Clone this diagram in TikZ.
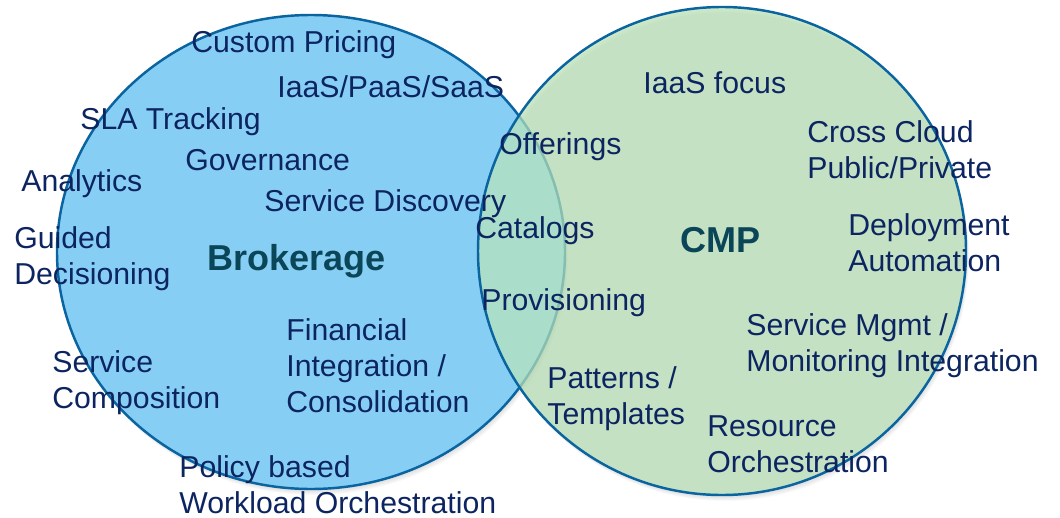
\documentclass[tikz,border=0pt]{standalone}
\usepackage{fontspec}
\setmainfont{Liberation Sans}
\definecolor{brokerblue}{RGB}{135,206,245}
\definecolor{cmpgreen}{RGB}{186,228,184}
\definecolor{rimblue}{RGB}{10,100,160}
\definecolor{labelnavy}{RGB}{12,36,96}
\definecolor{titleteal}{RGB}{11,69,88}
\tikzset{
  item/.style={anchor=west, align=left, inner sep=0pt, text=labelnavy,
    font=\fontsize{17.2}{20.5}\selectfont},
  venntitle/.style={anchor=west, inner sep=0pt, text=titleteal,
    font=\fontsize{20.5}{24}\selectfont\bfseries},
  ring/.style={draw=rimblue, line width=1.4pt},
}
\begin{document}
\begin{tikzpicture}[x=0.02cm, y=-0.02cm]
  \useasboundingbox (0,0) rectangle (1060,517);

  % soft shadows
  \foreach \s in {1,...,6} {
    \fill[black, opacity=0.025] (311+0.5*\s, 252+\s) ellipse [x radius=254, y radius=237];
    \fill[black, opacity=0.025] (722+0.5*\s, 251+\s) circle [radius=244];
  }

  % Brokerage set
  \fill[brokerblue] (311,252) ellipse [x radius=254, y radius=237];
  \draw[ring] (311,252) ellipse [x radius=254, y radius=237];

  % CMP set
  \fill[cmpgreen, opacity=0.7] (722,251) circle [radius=244];
  \draw[ring] (722,251) circle [radius=244];

  % titles
  \node[venntitle] (brokerage) at (207,261) {Brokerage};
  \node[venntitle] (cmp) at (680,240) {CMP};

  % brokerage features
  \node[item] (cpricing) at (191,45) {Custom Pricing};
  \node[item] (xaas) at (277,87) {IaaS/PaaS/SaaS};
  \node[item] (sla) at (80,122) {SLA Tracking};
  \node[item] (governance) at (185,160) {Governance};
  \node[item] (analytics) at (21,184) {Analytics};
  \node[item] (discovery) at (264,204) {Service Discovery};
  \node[item] (guided) at (14,259) {Guided\\Decisioning};
  \node[item] (financial) at (286,366) {Financial\\Integration /\\Consolidation};
  \node[item] (composition) at (52,383) {Service\\Composition};
  \node[item] (policy) at (179,485) {Policy based\\Workload Orchestration};

  % shared features
  \node[item] (offerings) at (499,147) {Offerings};
  \node[item] (catalogs) at (475,231) {Catalogs};
  \node[item] (provisioning) at (481,303) {Provisioning};

  % CMP features
  \node[item] (iaasfocus) at (643,83) {IaaS focus};
  \node[item] (crosscloud) at (807,150) {Cross Cloud\\Public/Private};
  \node[item] (deployment) at (848,243) {Deployment\\Automation};
  \node[item] (servicemgmt) at (746,346) {Service Mgmt /\\Monitoring Integration};
  \node[item] (patterns) at (547,399) {Patterns /\\Templates};
  \node[item] (resource) at (707,444) {Resource\\Orchestration};
\end{tikzpicture}
\end{document}
